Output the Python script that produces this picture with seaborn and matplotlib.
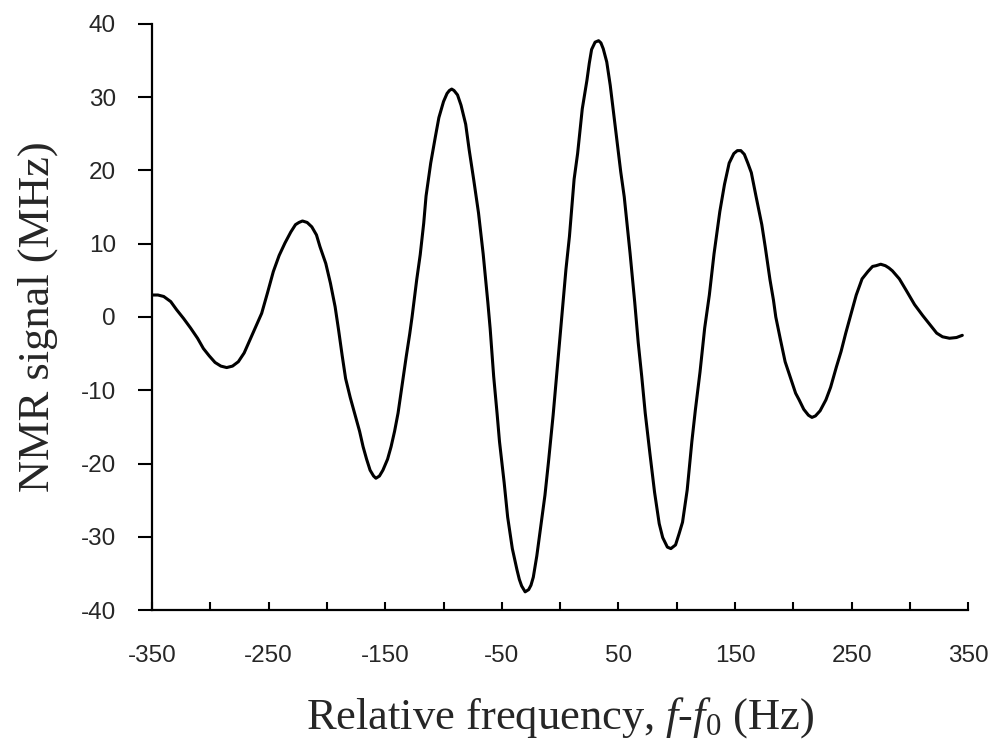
import numpy as np
import pandas as pd
import matplotlib
matplotlib.use("Agg")
import matplotlib.pyplot as plt
import seaborn as sns

# Points (relative frequency in Hz, NMR signal)
freq_hz = [
    -350, -345, -340, -334, -329, -323, -317, -311, -306, -301, -296, -291, -286,
    -281, -276, -271, -266, -261, -256, -251, -246, -241, -236, -231, -227, -224,
    -221, -217, -213, -209, -206, -201, -197, -193, -190, -187, -184, -180, -176,
    -172, -169, -166, -163, -160, -158, -155, -152, -148, -145, -142, -139, -137,
    -135, -132, -129, -127, -125, -123, -120, -117, -115, -111, -107, -104, -100,
    -97, -95, -93, -91, -88, -85, -81, -78, -74, -70, -66, -62, -60, -57, -54,
    -52, -48, -45, -41, -37, -35, -33, -30, -27, -25, -23, -20, -17, -13, -10,
    -6, -2, 2, 5, 8, 12, 15, 19, 23, 25, 27, 30, 33, 35, 37, 40, 43, 45, 48,
    52, 55, 60, 64, 67, 70, 73, 77, 81, 85, 88, 92, 95, 99, 102, 105, 109, 113,
    116, 120, 124, 128, 132, 137, 141, 145, 149, 152, 155, 158, 161, 164, 168,
    173, 176, 180, 183, 185, 189, 193, 198, 202, 205, 209, 213, 216, 219, 223,
    228, 232, 237, 241, 245, 250, 254, 259, 264, 268, 271, 275, 279, 282, 285,
    291, 297, 304, 311, 317, 323, 328, 334, 340, 345,
]
nmr_signal = [
    3.0, 3.0, 2.8, 2.1, 1.0, -0.2, -1.5, -2.9, -4.3, -5.3, -6.2, -6.7, -6.9,
    -6.7, -6.1, -4.9, -3.1, -1.3, 0.5, 3.3, 6.2, 8.4, 10.1, 11.6, 12.6, 12.9,
    13.1, 12.9, 12.3, 11.2, 9.6, 7.3, 4.6, 1.4, -1.8, -5.2, -8.4, -11.0, -13.3,
    -15.6, -17.7, -19.4, -20.9, -21.7, -22.0, -21.7, -20.9, -19.4, -17.7, -15.6,
    -13.1, -10.9, -8.6, -5.4, -2.3, 0.0, 2.5, 5.1, 8.5, 12.8, 16.5, 21.0, 24.6,
    27.2, 29.4, 30.5, 30.9, 31.1, 30.9, 30.3, 28.9, 26.3, 22.8, 18.6, 14.2, 8.6,
    2.0, -1.6, -8.1, -13.3, -17.0, -22.6, -27.3, -31.6, -34.5, -35.8, -36.7,
    -37.5, -37.2, -36.6, -35.5, -32.6, -29.0, -24.3, -19.8, -13.4, -6.2, 1.0,
    6.5, 11.0, 18.8, 22.3, 28.4, 32.3, 34.6, 36.5, 37.5, 37.7, 37.4, 36.6, 34.8,
    31.6, 29.0, 25.0, 19.8, 16.4, 8.7, 2.0, -3.5, -8.1, -13.1, -18.6, -23.9,
    -28.2, -30.1, -31.4, -31.6, -31.1, -29.6, -28.0, -23.6, -17.0, -12.7, -7.5,
    -1.5, 3.0, 8.6, 14.4, 18.1, 21.0, 22.3, 22.7, 22.7, 22.2, 21.0, 19.7, 16.5,
    12.6, 9.5, 5.1, 2.3, 0.0, -3.1, -6.1, -8.5, -10.4, -11.3, -12.6, -13.4,
    -13.7, -13.5, -12.8, -11.3, -9.6, -6.8, -4.7, -2.2, 0.7, 3.0, 5.2, 6.2, 6.9,
    7.0, 7.2, 7.0, 6.7, 6.3, 5.2, 3.6, 1.7, 0.2, -1.0, -2.2, -2.7, -2.9, -2.8,
    -2.5,
]

x_major = [-350, -250, -150, -50, 50, 150, 250, 350]
x_minor = [-300, -200, -100, 0, 100, 200, 300]
y_ticks = [-40, -30, -20, -10, 0, 10, 20, 30, 40]

sns.set_style("ticks")
plt.rcParams["font.family"] = ["Liberation Sans", "DejaVu Sans"]
plt.rcParams["mathtext.fontset"] = "custom"
plt.rcParams["mathtext.rm"] = "Liberation Serif"
plt.rcParams["mathtext.it"] = "Liberation Serif:italic"

df = pd.DataFrame({"freq": freq_hz, "signal": nmr_signal})

fig = plt.figure(figsize=(9.94, 7.45), dpi=100)
ax = fig.add_axes([0.153, 0.181, 0.821, 0.787])

sns.lineplot(data=df, x="freq", y="signal", ax=ax, color="black",
             linewidth=2.2, estimator=None, sort=False)

ax.set_xlim(-350, 350)
ax.set_ylim(-40, 40)
ax.set_xticks(x_major)
ax.set_xticks(x_minor, minor=True)
ax.set_yticks(y_ticks)
ax.set_xticklabels([str(v) for v in x_major])
ax.set_yticklabels([str(v) for v in y_ticks])

ax.tick_params(axis="x", which="both", direction="in", length=6, width=1.5,
               labelsize=17.5, pad=25, color="black")
ax.tick_params(axis="y", direction="out", length=10, width=1.5,
               labelsize=17.5, pad=16, color="black")

for side in ["top", "right"]:
    ax.spines[side].set_visible(False)
for side in ["left", "bottom"]:
    ax.spines[side].set_linewidth(1.6)
    ax.spines[side].set_color("black")

ax.set_xlabel(r"Relative frequency, $f$-$f_0$ (Hz)", family="Liberation Serif",
              fontsize=32, labelpad=20)
ax.set_ylabel("NMR signal (MHz)", family="Liberation Serif", fontsize=32,
              labelpad=16)

fig.savefig("out.png", dpi=100, facecolor="white")
